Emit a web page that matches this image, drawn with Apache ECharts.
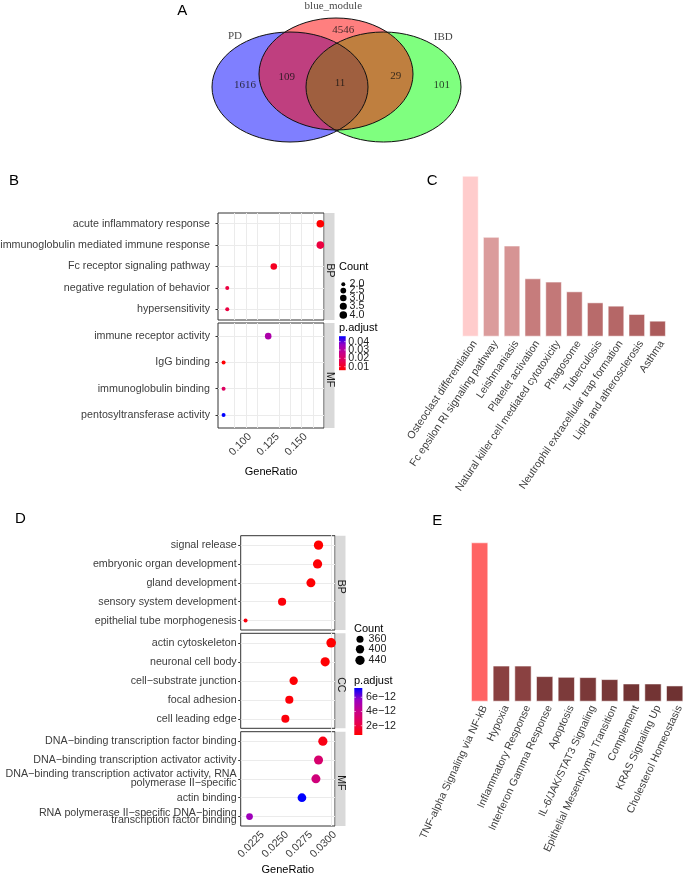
<!DOCTYPE html>
<html>
<head>
<meta charset="utf-8">
<script src="https://cdn.jsdelivr.net/npm/echarts@6/dist/echarts.min.js"></script>
<style>html,body{margin:0;padding:0;background:#fff}#c{width:685px;height:877px}</style>
</head>
<body>
<div id="c"></div>
<script>
// ================= DATA =================
// Panel A : Venn diagram
const vennSetNames = ['PD', 'blue_module', 'IBD'];
const vennRegionCounts = [1616, 109, 11, 29, 101, 4546]; // PD only, PD∩blue, PD∩blue∩IBD, blue∩IBD, IBD only, blue only

// Panel B : GO enrichment dot plot
const bCatsBP = ['acute inflammatory response', 'immunoglobulin mediated immune response', 'Fc receptor signaling pathway', 'negative regulation of behavior', 'hypersensitivity'];
const bRatioBP = [0.1667, 0.1667, 0.125, 0.0833, 0.0833];
const bCountBP = [4, 4, 3, 2, 2];
const bPadjBP = [0.0058, 0.014, 0.010, 0.014, 0.014];
const bCatsMF = ['immune receptor activity', 'IgG binding', 'immunoglobulin binding', 'pentosyltransferase activity'];
const bRatioMF = [0.12, 0.08, 0.08, 0.08];
const bCountMF = [3, 2, 2, 2];
const bPadjMF = [0.032, 0.0062, 0.019, 0.0465];
const bXTicks = [0.100, 0.125, 0.150];
const bCountTicks = [2.0, 2.5, 3.0, 3.5, 4.0];
const bPadjTicks = [0.01, 0.02, 0.03, 0.04];

// Panel C : KEGG bars
const cTerms = ['Osteoclast differentiation', 'Fc epsilon RI signaling pathway', 'Leishmaniasis', 'Platelet activation', 'Natural killer cell mediated cytotoxicity', 'Phagosome', 'Tuberculosis', 'Neutrophil extracellular trap formation', 'Lipid and atherosclerosis', 'Asthma'];
const cValues = [16.07, 9.97, 9.10, 5.83, 5.50, 4.53, 3.43, 3.10, 2.27, 1.60];

// Panel D : GO enrichment dot plot
const dCatsBP = ['signal release', 'embryonic organ development', 'gland development', 'sensory system development', 'epithelial tube morphogenesis'];
const dRatioBP = [0.02870, 0.02860, 0.02791, 0.02492, 0.02113];
const dCountBP = [440, 438, 428, 394, 320];
const dPadjBP = [0.69e-12, 0.80e-12, 0.75e-12, 0.90e-12, 1.0e-12];
const dCatsCC = ['actin cytoskeleton', 'neuronal cell body', 'cell\u2212substrate junction', 'focal adhesion', 'cell leading edge'];
const dRatioCC = [0.03001, 0.02939, 0.02612, 0.02567, 0.02526];
const dCountCC = [455, 436, 402, 394, 390];
const dPadjCC = [0.70e-12, 0.75e-12, 0.80e-12, 0.85e-12, 0.90e-12];
const dCatsMF = ['DNA\u2212binding transcription factor binding', 'DNA\u2212binding transcription activator activity', 'DNA\u2212binding transcription activator activity, RNA\npolymerase II\u2212specific', 'actin binding', 'RNA polymerase II\u2212specific DNA\u2212binding\ntranscription factor binding'];
const dRatioMF = [0.02915, 0.02870, 0.02843, 0.02698, 0.02154];
const dCountMF = [436, 430, 428, 415, 352];
const dPadjMF = [1.1e-12, 3.2e-12, 3.6e-12, 7.31e-12, 5.45e-12];
const dXTicks = [0.0225, 0.0250, 0.0275, 0.0300];
const dCountTicks = [360, 400, 440];
const dPadjTicks = [2e-12, 4e-12, 6e-12];

// Panel E : Hallmark bars
const eTerms = ['TNF-alpha Signaling via NF-kB', 'Hypoxia', 'Inflammatory Response', 'Interferon Gamma Response', 'Apoptosis', 'IL-6/JAK/STAT3 Signaling', 'Epithelial Mesenchymal Transition', 'Complement', 'KRAS Signaling Up', 'Cholesterol Homeostasis'];
const eValues = [16.0, 3.63, 3.63, 2.57, 2.50, 2.47, 2.27, 1.83, 1.83, 1.63];

// ================= STYLE / LAYOUT =================
const FONT = '"Liberation Sans", Arial, sans-serif';
const SERIF = '"Liberation Serif", "Times New Roman", serif';
const TXT = '#3D3D3D';
const GRAD = ['#FF0000', '#E7004F', '#C80088', '#9900C2', '#0000FF'];
const cBarColors = ['#FFCCCC', '#DB9C9C', '#D69494', '#C67C7C', '#C37878', '#BE7272', '#B86B6B', '#B56767', '#B06262', '#AB5A5A'];
const eBarColors = ['#FF6464', '#8A4141', '#8A4141', '#7E3B3B', '#7C3A3A', '#7B3939', '#783737', '#733434', '#733434', '#6F3232'];

const L = {
  venn: {left: 170, top: 0, width: 340, height: 160},
  bBP: {left: 218, top: 213, width: 106, height: 107},
  bMF: {left: 218, top: 323, width: 106, height: 105},
  c: {left: 460, top: 175.7, width: 208, height: 161},
  dBP: {left: 240.7, top: 535.7, width: 94.3, height: 94.3},
  dCC: {left: 240.7, top: 633.3, width: 94.3, height: 95},
  dMF: {left: 240.7, top: 731.7, width: 94.3, height: 94.3},
  e: {left: 468.8, top: 542.3, width: 216.7, height: 159.4}
};
// Venn geometry in Venn-box units: [cx, cy, rx, ry]
const VENN_GEOM = {PD: [120, 87, 78, 55], IBD: [213.5, 87, 77.5, 55], blue_module: [166, 74, 77, 56]};
const VENN_FILL = {PD: 'rgba(0,0,255,0.5)', IBD: 'rgba(0,255,0,0.5)', blue_module: 'rgba(255,0,0,0.5)'};
const VENN_ORDER = ['PD', 'IBD', 'blue_module'];
const VENN_COUNT_POS = [[75, 85], [116.7, 76.7], [170, 82.7], [225.7, 76], [271.7, 85], [173.3, 30]];
const VENN_NAME_POS = {PD: [65, 35.7], blue_module: [163.3, 5.7], IBD: [273.3, 36.7]};

// ================= BUILD =================
const grids = [], xAxes = [], yAxes = [], series = [], visualMaps = [], graphics = [];

function addGrid(r, framed) {
  grids.push({left: r.left, top: r.top, width: r.width, height: r.height, containLabel: false, outerBoundsMode: 'none',
    show: !!framed, borderColor: '#333333', borderWidth: 1, backgroundColor: '#fff'});
  return grids.length - 1;
}
function txt(x, y, text, o) {
  o = o || {};
  graphics.push({type: 'text', x: x, y: y, rotation: o.rot || 0, silent: true, z: 10,
    style: {text: text, fontSize: o.size || 11, fontFamily: o.family || FONT, fill: o.color || '#000',
      align: o.align || 'left', verticalAlign: o.va || 'middle'}});
}

// ---- Panel A ----
const gA = addGrid(L.venn, false);
xAxes.push({type: 'value', gridIndex: gA, min: 0, max: L.venn.width, show: false});
yAxes.push({type: 'value', gridIndex: gA, min: 0, max: L.venn.height, inverse: true, show: false});
const vennData = VENN_ORDER.map(n => VENN_GEOM[n]);
function vennRender(stroke) {
  return function (params, api) {
    const c = api.coord([api.value(0), api.value(1)]);
    const s = api.size([api.value(2), api.value(3)]);
    return {type: 'ellipse', shape: {cx: c[0], cy: c[1], rx: Math.abs(s[0]), ry: Math.abs(s[1])},
      style: stroke ? {fill: 'none', stroke: '#111', lineWidth: 1} : {fill: VENN_FILL[VENN_ORDER[params.dataIndex]]}};
  };
}
series.push({type: 'custom', xAxisIndex: xAxes.length - 1, yAxisIndex: yAxes.length - 1, renderItem: vennRender(false), data: vennData, silent: true, z: 2});
series.push({type: 'custom', xAxisIndex: xAxes.length - 1, yAxisIndex: yAxes.length - 1, renderItem: vennRender(true), data: vennData, silent: true, z: 3});
const vennLabels = vennRegionCounts.map((v, i) => [VENN_COUNT_POS[i][0], VENN_COUNT_POS[i][1], String(v)])
  .concat(vennSetNames.map(n => [VENN_NAME_POS[n][0], VENN_NAME_POS[n][1], n]));
series.push({type: 'scatter', xAxisIndex: xAxes.length - 1, yAxisIndex: yAxes.length - 1, data: vennLabels, symbolSize: 0.1,
  itemStyle: {color: 'transparent'}, silent: true, z: 4,
  label: {show: true, position: 'inside', formatter: p => p.data[2], fontFamily: SERIF, fontSize: 11, color: '#111'}});
txt(177.3, 10.5, 'A', {size: 15});

// ---- helpers for dot plots ----
function gridLines(majors, min, max) {
  const step = (majors[1] - majors[0]) / 2, out = [];
  let v = majors[0];
  while (v - step > min + 1e-9) v -= step;
  for (; v < max - 1e-9; v += step) out.push(+v.toFixed(8));
  return out;
}
function facetPanel(r, cats, ratios, padj, counts, xcfg, ycfg, sizeFn, strip, showX) {
  const g = addGrid(r, true);
  xAxes.push({type: 'value', gridIndex: g, min: xcfg.min, max: xcfg.max, interval: xcfg.step,
    axisLine: {show: false}, axisTick: {show: false}, splitLine: {show: false},
    axisLabel: {show: showX, rotate: 45, margin: 3, align: 'right', verticalAlign: 'top', fontSize: 10.7, color: TXT, fontFamily: FONT,
      formatter: v => xcfg.majors.some(t => Math.abs(t - v) < xcfg.step / 100) ? v.toFixed(xcfg.digits) : ''},
    name: showX ? 'GeneRatio' : '', nameLocation: 'middle', nameGap: xcfg.nameGap,
    nameTextStyle: {fontSize: 11, color: '#000', fontFamily: FONT}});
  yAxes.push({type: 'category', gridIndex: g, data: cats, inverse: true,
    axisLine: {show: false}, splitLine: {show: false},
    axisTick: {show: true, interval: 0, alignWithLabel: true, length: 2.5, lineStyle: {color: '#333', width: 1}},
    axisLabel: Object.assign({interval: 0, margin: ycfg.margin, fontSize: 10.7, color: TXT, fontFamily: FONT, lineHeight: 9}, ycfg.label || {})});
  const xi = xAxes.length - 1, yi = yAxes.length - 1;
  const lines = gridLines(xcfg.majors, xcfg.min, xcfg.max).map(v => ({xAxis: v}))
    .concat(cats.map((c, i) => ({yAxis: i})));
  series.push({type: 'scatter', xAxisIndex: xi, yAxisIndex: yi, data: [], z: 1, silent: true,
    markLine: {z: 1, silent: true, animation: false, symbol: ['none', 'none'], label: {show: false},
      lineStyle: {color: '#EBEBEB', width: 1, type: 'solid'}, emphasis: {disabled: true}, data: lines}});
  series.push({type: 'scatter', xAxisIndex: xi, yAxisIndex: yi, z: 6, silent: true,
    data: ratios.map((v, i) => [v, i, padj[i], counts[i]]),
    symbolSize: v => sizeFn(v[3]), itemStyle: {opacity: 1}});
  // facet strip
  graphics.push({type: 'rect', silent: true, z: 5, shape: {x: r.left + r.width + 0.5, y: r.top, width: 10, height: r.height}, style: {fill: '#D9D9D9'}});
  txt(r.left + r.width + 5.5, r.top + r.height / 2 + 4, strip, {size: 10.5, color: '#1A1A1A', align: 'center', rot: -Math.PI / 2});
  return series.length - 1;
}
function countLegend(x, y0, ticks, sizeFn, gap, labX, fmt) {
  let y = y0;
  ticks.forEach((t, i) => {
    const d = sizeFn(t);
    if (i > 0) y += (sizeFn(ticks[i - 1]) + d) / 2 + gap;
    graphics.push({type: 'circle', silent: true, z: 10, shape: {cx: x, cy: y, r: d / 2}, style: {fill: '#000'}});
    txt(labX, y, fmt(t), {size: 10.7, color: '#222'});
  });
}
function colorBar(x, top, w, h, vmin, vmax, ticks, labX, fmt) {
  graphics.push({type: 'rect', silent: true, z: 10, shape: {x: x, y: top, width: w, height: h},
    style: {fill: {type: 'linear', x: 0, y: 0, x2: 0, y2: 1, colorStops: GRAD.slice().reverse().map((c, i, a) => ({offset: i / (a.length - 1), color: c}))}}});
  ticks.forEach(t => {
    const y = top + (vmax - t) / (vmax - vmin) * h;
    graphics.push({type: 'line', silent: true, z: 11, shape: {x1: x, y1: y, x2: x + 1.5, y2: y}, style: {stroke: '#fff', lineWidth: 0.6}});
    graphics.push({type: 'line', silent: true, z: 11, shape: {x1: x + w - 1.5, y1: y, x2: x + w, y2: y}, style: {stroke: '#fff', lineWidth: 0.6}});
    txt(labX, y, fmt(t), {size: 10.7, color: '#222'});
  });
}

// ---- Panel B ----
const bCountsAll = bCountBP.concat(bCountMF);
const bPadjAll = bPadjBP.concat(bPadjMF);
const bCMin = Math.min(...bCountsAll), bCMax = Math.max(...bCountsAll);
const sizeB = c => 4 + 3.6 * Math.sqrt((c - bCMin) / (bCMax - bCMin));
const bX = {min: 0.075, max: 0.17, step: 0.0125, majors: bXTicks, digits: 3, nameGap: 38.5};
const sB1 = facetPanel(L.bBP, bCatsBP, bRatioBP, bPadjBP, bCountBP, bX, {margin: 8}, sizeB, 'BP', false);
const sB2 = facetPanel(L.bMF, bCatsMF, bRatioMF, bPadjMF, bCountMF, bX, {margin: 8}, sizeB, 'MF', true);
const bPMin = Math.min(...bPadjAll), bPMax = Math.max(...bPadjAll);
visualMaps.push({type: 'continuous', show: false, seriesIndex: [sB1, sB2], dimension: 2, min: bPMin, max: bPMax, inRange: {color: GRAD}});
txt(9, 181, 'B', {size: 15});
txt(339, 266.7, 'Count', {size: 11});
countLegend(343.3, 284.3, bCountTicks, sizeB, 1.35, 349.5, t => t.toFixed(1));
txt(339, 327.7, 'p.adjust', {size: 11});
colorBar(339, 336.2, 6.7, 34, bPMin, bPMax, bPadjTicks, 348.3, t => t.toFixed(2));

// ---- Panel C ----
function barPanel(r, terms, vals, colors, rot) {
  const g = addGrid(r, false);
  xAxes.push({type: 'category', gridIndex: g, data: terms, axisLine: {show: false}, axisTick: {show: false},
    axisLabel: {interval: 0, rotate: rot, margin: 2, align: 'right', verticalAlign: 'top', fontSize: 10.6, color: TXT, fontFamily: FONT}});
  yAxes.push({type: 'value', gridIndex: g, min: 0, max: Math.max(...vals), show: false});
  series.push({type: 'bar', xAxisIndex: xAxes.length - 1, yAxisIndex: yAxes.length - 1, barCategoryGap: '20%', silent: true,
    data: vals.map((v, i) => ({value: v, itemStyle: {color: colors[i], borderColor: 'rgba(255,255,255,0.55)', borderWidth: 1}}))});
}
barPanel(L.c, cTerms, cValues, cBarColors, 56);
txt(426.7, 181, 'C', {size: 15});

// ---- Panel D ----
const dCountsAll = dCountBP.concat(dCountCC, dCountMF);
const dPadjAll = dPadjBP.concat(dPadjCC, dPadjMF);
const dCMin = Math.min(...dCountsAll), dCMax = Math.max(...dCountsAll);
const sizeD = c => 4 + 5.6 * Math.sqrt((c - dCMin) / (dCMax - dCMin));
const dX = {min: 0.020625, max: 0.03041, step: 0.000625, majors: dXTicks, digits: 4, nameGap: 38};
const dLabelMF = {
  formatter: (v, i) => v.split('\n').map(s => '{' + (i === 4 ? 't' : 'n') + '|' + s + '}').join('\n'),
  rich: {n: {lineHeight: 9.3, fontSize: 10.7, color: TXT, fontFamily: FONT, align: 'right'},
         t: {lineHeight: 7, fontSize: 10.7, color: TXT, fontFamily: FONT, align: 'right'}}
};
const sD1 = facetPanel(L.dBP, dCatsBP, dRatioBP, dPadjBP, dCountBP, dX, {margin: 4}, sizeD, 'BP', false);
const sD2 = facetPanel(L.dCC, dCatsCC, dRatioCC, dPadjCC, dCountCC, dX, {margin: 4}, sizeD, 'CC', false);
const sD3 = facetPanel(L.dMF, dCatsMF, dRatioMF, dPadjMF, dCountMF, dX, {margin: 4, label: dLabelMF}, sizeD, 'MF', true);
const dPMin = Math.min(...dPadjAll), dPMax = Math.max(...dPadjAll);
visualMaps.push({type: 'continuous', show: false, seriesIndex: [sD1, sD2, sD3], dimension: 2, min: dPMin, max: dPMax, inRange: {color: GRAD}});
txt(15, 519, 'D', {size: 15});
txt(354, 629, 'Count', {size: 11});
countLegend(360, 639.3, dCountTicks, sizeD, 2.25, 368.5, t => String(t));
txt(354, 681, 'p.adjust', {size: 11});
colorBar(354.3, 688, 8, 47, dPMin, dPMax, dPadjTicks, 366, t => (t / 1e-12).toFixed(0) + 'e\u221212');

// ---- Panel E ----
barPanel(L.e, eTerms, eValues, eBarColors, 65);
txt(432.3, 520.5, 'E', {size: 15});

const chart = echarts.init(document.getElementById('c'), null, {renderer: 'canvas', width: 685, height: 877});
chart.setOption({
  animation: false,
  backgroundColor: '#fff',
  textStyle: {fontFamily: FONT},
  grid: grids, xAxis: xAxes, yAxis: yAxes, series: series, visualMap: visualMaps, graphic: graphics
});
</script>
</body>
</html>
